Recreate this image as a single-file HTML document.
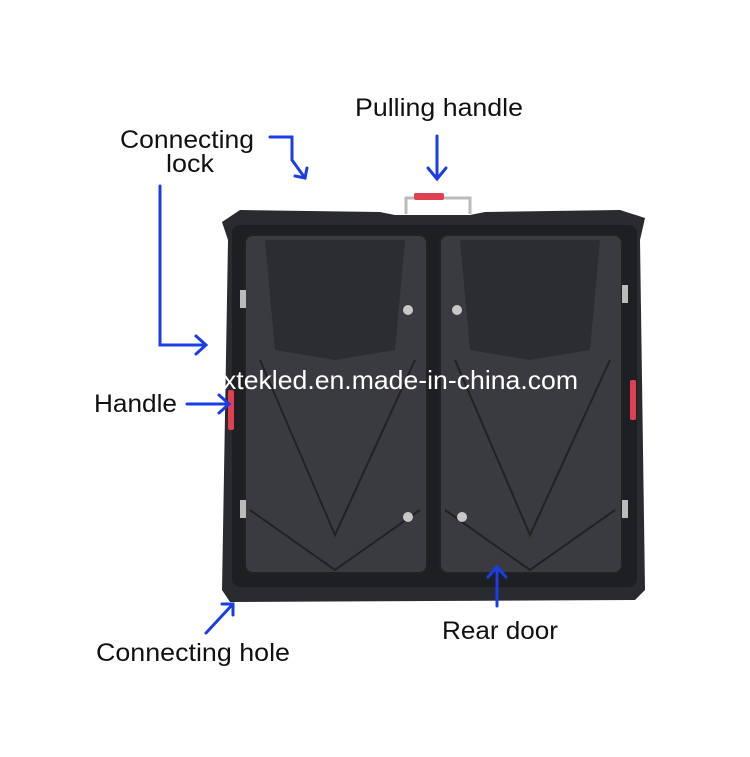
<!DOCTYPE html>
<html><head><style>
body{margin:0;background:#fff;}
svg{display:block}
text{font-family:"Liberation Sans",sans-serif;}
</style></head><body>
<svg width="750" height="757" viewBox="0 0 750 757" xmlns="http://www.w3.org/2000/svg">
<rect width="750" height="757" fill="#fff"/>
<path d="M406 214 V198 H470 V214" fill="none" stroke="#bbb" stroke-width="3"/>
<rect x="414" y="193" width="30" height="7" rx="2" fill="#e04050"/>
<path d="M222 222 L240 210 L380 212 L395 215 L470 215 L485 212 L620 210 L645 218 L640 240 L645 590 L635 600 L230 602 L222 590 L228 240 Z" fill="#2a2b30"/>
<rect x="232" y="225" width="405" height="362" rx="8" fill="#1e1f23"/>
<rect x="245" y="235" width="182" height="338" rx="8" fill="#3a3b41" stroke="#222" stroke-width="2"/>
<rect x="440" y="235" width="182" height="338" rx="8" fill="#3a3b41" stroke="#222" stroke-width="2"/>
<g fill="#2c2d32">
<path d="M265 240 L405 240 L395 350 L335 360 L275 350 Z"/>
<path d="M460 240 L600 240 L590 350 L530 360 L470 350 Z"/>
</g>
<g fill="none" stroke="#222" stroke-width="2">
<path d="M260 360 L335 535 L415 360"/>
<path d="M455 360 L530 535 L610 360"/>
<path d="M250 510 L335 570 L420 510"/>
<path d="M445 510 L530 570 L615 510"/>
</g>
<g fill="#c8c8c8">
<circle cx="408" cy="310" r="5"/><circle cx="457" cy="310" r="5"/>
<circle cx="408" cy="517" r="5"/><circle cx="462" cy="517" r="5"/>
</g>
<rect x="228" y="390" width="6" height="40" rx="2" fill="#e04050"/>
<rect x="630" y="380" width="6" height="40" rx="2" fill="#e04050"/>
<g fill="#bbb">
<rect x="240" y="290" width="6" height="18"/><rect x="240" y="500" width="6" height="18"/>
<rect x="622" y="285" width="6" height="18"/><rect x="622" y="500" width="6" height="18"/>
</g>
<text x="223" y="389" font-size="26" fill="#fff" textLength="355" lengthAdjust="spacingAndGlyphs">xtekled.en.made-in-china.com</text>
<g font-size="25" fill="#111">
<text x="355" y="116" textLength="168" lengthAdjust="spacingAndGlyphs">Pulling handle</text>
<text x="120" y="148" textLength="134" lengthAdjust="spacingAndGlyphs">Connecting</text>
<text x="166" y="172" textLength="48" lengthAdjust="spacingAndGlyphs">lock</text>
<text x="94" y="412" textLength="83" lengthAdjust="spacingAndGlyphs">Handle</text>
<text x="96" y="661" textLength="194" lengthAdjust="spacingAndGlyphs">Connecting hole</text>
<text x="442" y="639" textLength="116" lengthAdjust="spacingAndGlyphs">Rear door</text>
</g>
<g stroke="#1a3ee6" stroke-width="3" fill="none" stroke-linecap="round">
<path d="M270 137 H292 V160 L305 178"/><path d="M295 176 L305 178 L307 168"/>
<path d="M437 136 V178"/><path d="M428 168 L437 179 L446 168"/>
<path d="M160 186 V345 H205"/><path d="M196 336 L206 345 L196 354"/>
<path d="M187 404 H228"/><path d="M219 395 L229 404 L219 413"/>
<path d="M206 633 L232 605"/><path d="M222 604 L233 604 L233 615"/>
<path d="M497 606 V568"/><path d="M488 577 L497 567 L506 577"/>
</g>
</svg>
</body></html>
